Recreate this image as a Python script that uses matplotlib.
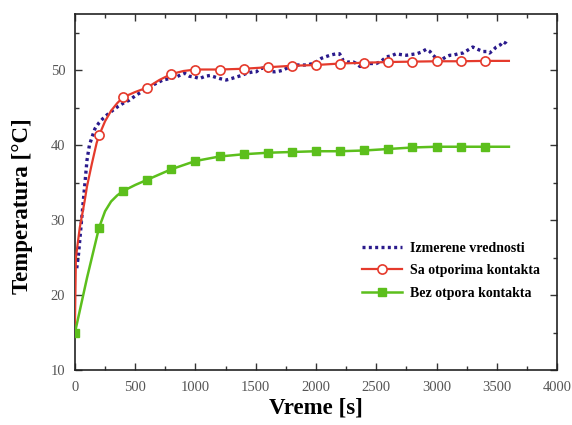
import matplotlib
matplotlib.use("Agg")
import matplotlib.pyplot as plt
from matplotlib.ticker import MultipleLocator

# Measured temperature (dense, noisy record)
measured_t = [15, 30, 40, 55, 70, 85, 100, 120, 140, 166, 200, 235, 270, 318, 360,
              400, 450, 510, 560, 620, 680, 730, 790, 840, 880, 910, 950, 990,
              1035, 1080, 1120, 1160, 1200, 1255, 1300, 1340, 1380, 1425, 1480,
              1505, 1535, 1560, 1590, 1615, 1660, 1700, 1725, 1760, 1780, 1840,
              1880, 1920, 1975, 2010, 2045, 2080, 2115, 2140, 2170, 2195, 2210,
              2225, 2260, 2310, 2335, 2365, 2390, 2420, 2445, 2500, 2540, 2585,
              2620, 2665, 2700, 2750, 2790, 2835, 2870, 2915, 2945, 2970, 3000,
              3025, 3060, 3080, 3110, 3135, 3180, 3220, 3260, 3300, 3340, 3385,
              3420, 3440, 3470, 3495, 3530, 3550, 3575, 3590]
measured_T = [23.6, 25.5, 27.3, 30.0, 32.7, 35.3, 38.0, 40.0, 41.0, 42.2, 43.0, 43.6,
              44.1, 44.7, 45.2, 45.6, 46.0, 46.7, 47.2, 47.8, 48.3, 48.7, 48.9,
              49.1, 49.4, 49.6, 49.2, 49.1, 48.9, 49.2, 49.3, 49.1, 48.9, 48.7,
              48.9, 49.1, 49.3, 49.6, 49.8, 49.8, 50.2, 50.3, 50.0, 49.8, 49.8,
              49.9, 50.0, 50.3, 50.5, 50.7, 50.7, 50.7, 50.9, 51.2, 51.6, 51.8,
              52.0, 52.1, 52.2, 52.2, 51.8, 51.3, 51.1, 51.1, 50.9, 50.5, 50.8,
              50.9, 50.9, 50.9, 51.2, 51.8, 51.9, 52.2, 52.1, 52.0, 52.1, 52.2,
              52.4, 52.8, 52.5, 52.0, 51.6, 51.2, 51.6, 51.8, 52.0, 52.0, 52.2,
              52.3, 52.7, 53.1, 52.8, 52.5, 52.5, 52.3, 52.7, 53.1, 53.4, 53.8,
              53.6, 53.3]

# Model with contact resistances
model_r_t = [0, 8, 40, 80, 100, 140, 180, 200, 250, 300, 350, 400, 500, 600, 700,
             800, 900, 1000, 1200, 1400, 1600, 1800, 2000, 2200, 2400, 2600, 2800,
             3000, 3200, 3400, 3600]
model_r_T = [16.0, 25.0, 29.0, 32.5, 34.5, 37.5, 40.3, 41.3, 43.2, 44.6, 45.6, 46.4,
             47.1, 47.7, 48.7, 49.5, 49.9, 50.1, 50.1, 50.2, 50.4, 50.6, 50.7,
             50.9, 51.0, 51.1, 51.15, 51.2, 51.2, 51.25, 51.25]

# Model without contact resistances
model_n_t = [0, 100, 200, 250, 300, 350, 400, 500, 600, 700, 800, 1000, 1200, 1400,
             1600, 1800, 2000, 2200, 2400, 2600, 2800, 3000, 3200, 3400, 3600]
model_n_T = [15.0, 22.3, 29.0, 31.2, 32.5, 33.3, 33.9, 34.7, 35.4, 36.1, 36.8, 37.9,
             38.5, 38.8, 39.0, 39.1, 39.2, 39.2, 39.3, 39.5, 39.7, 39.8, 39.8, 39.8,
             39.8]

labels = ["Izmerene vrednosti", "Sa otporima kontakta", "Bez otpora kontakta"]
marker_step = 200

serif = ["Liberation Serif", "DejaVu Serif"]

fig = plt.figure(figsize=(5.72, 4.25), dpi=100)
ax = fig.add_axes([0.131, 0.129, 0.843, 0.838])

ax.plot(measured_t, measured_T, color="#2a1a8c", lw=2.4,
        linestyle=(0, (0.9, 1.0)), label=labels[0], zorder=3)

r_marks = [i for i, t in enumerate(model_r_t) if t % marker_step == 0 and 0 < t < 3600]
ax.plot(model_r_t, model_r_T, color="#e53a2c", lw=1.6, marker="o", markersize=6.6,
        markerfacecolor="white", markeredgecolor="#e53a2c", markeredgewidth=1.2,
        markevery=r_marks, label=labels[1], zorder=4)

n_marks = [i for i, t in enumerate(model_n_t) if t % marker_step == 0 and t < 3600]
ax.plot(model_n_t, model_n_T, color="#5cbf1c", lw=1.8, marker="s", markersize=6.2,
        markerfacecolor="#5cbf1c", markeredgecolor="#5cbf1c",
        markevery=n_marks, label=labels[2], zorder=4)

ax.set_xlim(0, 4000)
ax.set_ylim(10, 57.5)
ax.xaxis.set_major_locator(MultipleLocator(500))
ax.xaxis.set_minor_locator(MultipleLocator(250))
ax.yaxis.set_major_locator(MultipleLocator(10))
ax.yaxis.set_minor_locator(MultipleLocator(5))
ax.tick_params(which="both", direction="in", top=True, right=True,
               colors="#333333", labelcolor="#555555")
ax.tick_params(which="major", length=5, width=1)
ax.tick_params(which="minor", length=3, width=1)
for lbl in ax.get_xticklabels() + ax.get_yticklabels():
    lbl.set_family(serif)
    lbl.set_fontsize(10.5)
ax.tick_params(axis="x", pad=8)
ax.tick_params(axis="y", pad=7)
for sp in ax.spines.values():
    sp.set_linewidth(1.2)
    sp.set_color("#222222")

ax.set_xlabel("Vreme [s]", family=serif, fontweight="bold", fontsize=16.5, labelpad=2)
ax.set_ylabel("Temperatura [°C]", family=serif, fontweight="bold", fontsize=16.5)
ax.yaxis.set_label_coords(-0.087, 0.46)

ax.legend(loc="upper left", bbox_to_anchor=(0.58, 0.38), frameon=False,
          prop={"family": serif, "weight": "bold", "size": 10},
          handlelength=2.9, handletextpad=0.6, labelspacing=0.68, borderpad=0)

fig.savefig("out.png", dpi=100)
